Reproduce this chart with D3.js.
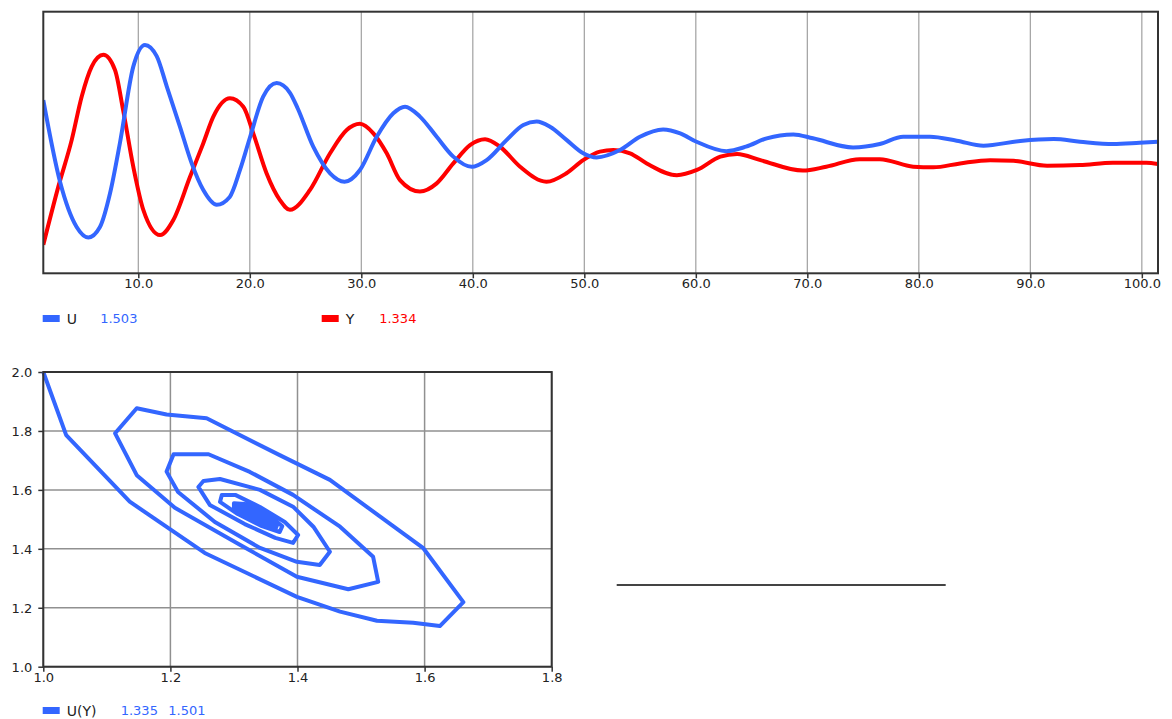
<!DOCTYPE html>
<html>
<head>
<meta charset="utf-8">
<script src="https://cdn.jsdelivr.net/npm/d3@7/dist/d3.min.js"></script>
<style>
  html, body { margin: 0; padding: 0; background: #fff; }
  svg { display: block; }
  text { font-family: "DejaVu Sans", Verdana, sans-serif; font-size: 13px; }
</style>
</head>
<body>
<svg id="chart" width="1172" height="719"></svg>
<script>
// ---------- DATA ----------
const timeTicks = [10, 20, 30, 40, 50, 60, 70, 80, 90, 100];
const phaseXTicks = [1.0, 1.2, 1.4, 1.6, 1.8];
const phaseYTicks = [1.0, 1.2, 1.4, 1.6, 1.8, 2.0];

// U(t) series (blue)
const uTime = [1.48, 2.98, 4.47, 5.52, 6.56, 7.46, 8.36, 9.55, 10.6, 11.65, 12.55, 13.74, 14.79, 15.83,
  17.03, 18.2, 19.12, 20.02, 21.2, 22.41, 23.6, 24.3, 25.7, 27.2, 28.5, 29.88, 31.38, 32.87, 33.92,
  35.26, 36.76, 38.25, 39.9, 41.24, 43.04, 44.53, 45.73, 46.92, 48.4, 49.9, 51.1, 53.2, 54.99, 57.07,
  58.6, 60.06, 62.75, 64.5, 66.36, 68.75, 70.5, 74.1, 76.5, 78.6, 81.0, 83.4, 85.8, 89.1, 92.1, 94.45,
  97.44, 99.8, 101.45];
const uValues = [1.662, 1.35, 1.177, 1.137, 1.177, 1.305, 1.50, 1.79, 1.873, 1.83, 1.715, 1.56, 1.42, 1.318,
  1.262, 1.292, 1.395, 1.52, 1.675, 1.727, 1.69, 1.63, 1.483, 1.382, 1.35, 1.395, 1.522, 1.612, 1.637,
  1.599, 1.522, 1.446, 1.407, 1.433, 1.51, 1.567, 1.58, 1.56, 1.51, 1.459, 1.443, 1.471, 1.522, 1.55,
  1.535, 1.503, 1.467, 1.484, 1.516, 1.531, 1.516, 1.481, 1.494, 1.522, 1.522, 1.507, 1.488, 1.506, 1.513, 1.503,
  1.494, 1.499, 1.503];

// Y(t) series (red)
const yTime = [1.48, 2.83, 4.03, 4.92, 5.82, 6.86, 7.91, 8.64, 9.55, 10.45, 11.95, 13.14, 14.64, 15.83,
  16.73, 18.22, 19.42, 20.31, 21.5, 22.7, 23.6, 25.4, 27.2, 28.69, 29.88, 31.08, 32.28, 33.47, 35.26,
  36.76, 38.25, 39.75, 41.1, 42.44, 44.24, 46.6, 48.4, 49.9, 51.4, 52.6, 54.1, 55.6, 58.3, 60.1, 62.2,
  63.7, 65.8, 69.6, 71.7, 74.7, 76.5, 79.5, 81.3, 83.7, 86.4, 88.5, 91.5, 94.45, 97.4, 100.4, 101.45];
const yValues = [1.087, 1.265, 1.408, 1.54, 1.632, 1.668, 1.622, 1.499, 1.326, 1.194, 1.117, 1.163, 1.295, 1.398,
  1.479, 1.535, 1.509, 1.428, 1.306, 1.224, 1.194, 1.255, 1.367, 1.438, 1.457, 1.428, 1.367, 1.285, 1.25,
  1.275, 1.336, 1.392, 1.41, 1.387, 1.326, 1.28, 1.306, 1.346, 1.372, 1.377, 1.367, 1.336, 1.30, 1.316, 1.357,
  1.365, 1.346, 1.314, 1.326, 1.349, 1.349, 1.326, 1.324, 1.336, 1.346, 1.344, 1.329, 1.331, 1.338, 1.338, 1.334];

// Phase plot U(Y): x = Y, y = U
const phaseY = [1.000, 1.036, 1.136, 1.254, 1.399, 1.467, 1.525, 1.582, 1.624, 1.661, 1.598, 1.451, 1.372, 1.257,
  1.194, 1.147, 1.113, 1.147,
  1.207, 1.310, 1.399, 1.480, 1.527, 1.519, 1.467, 1.393, 1.325, 1.260, 1.205, 1.194,
  1.212, 1.270, 1.341, 1.399, 1.435, 1.451, 1.425, 1.393, 1.341, 1.278, 1.252, 1.244,
  1.262, 1.317, 1.365, 1.393, 1.401, 1.380, 1.341, 1.302, 1.281, 1.278,
  1.306, 1.344, 1.372, 1.376, 1.349, 1.317, 1.300, 1.300,
  1.320, 1.352, 1.366, 1.368, 1.345, 1.318, 1.303, 1.304,
  1.325, 1.350, 1.362, 1.362, 1.342, 1.320, 1.308, 1.310,
  1.328, 1.350, 1.358, 1.357, 1.340, 1.322, 1.313, 1.315,
  1.331, 1.348, 1.353, 1.352, 1.338, 1.325, 1.318, 1.320,
  1.333, 1.345, 1.348, 1.346, 1.336, 1.328, 1.324, 1.327, 1.335];
const phaseU = [2.000, 1.786, 1.560, 1.386, 1.237, 1.187, 1.156, 1.149, 1.138, 1.219, 1.402, 1.634, 1.718, 1.843,
  1.856, 1.877, 1.792, 1.650,
  1.539, 1.413, 1.305, 1.263, 1.288, 1.373, 1.475, 1.583, 1.661, 1.721, 1.721, 1.662,
  1.593, 1.491, 1.403, 1.356, 1.345, 1.390, 1.475, 1.543, 1.600, 1.637, 1.630, 1.610,
  1.549, 1.484, 1.437, 1.420, 1.447, 1.491, 1.542, 1.583, 1.583, 1.559,
  1.518, 1.477, 1.457, 1.477, 1.522, 1.552, 1.555, 1.532,
  1.505, 1.478, 1.470, 1.482, 1.512, 1.540, 1.545, 1.530,
  1.500, 1.480, 1.476, 1.488, 1.512, 1.533, 1.537, 1.525,
  1.499, 1.483, 1.481, 1.491, 1.510, 1.527, 1.530, 1.520,
  1.499, 1.487, 1.486, 1.494, 1.508, 1.520, 1.522, 1.515,
  1.500, 1.491, 1.491, 1.497, 1.506, 1.513, 1.514, 1.509, 1.501];

const legendTop = [{name: "U", value: "1.503", color: "#3366ff"}, {name: "Y", value: "1.334", color: "#ff0000"}];
const legendPhase = {name: "U(Y)", values: ["1.335", "1.501"], color: "#3366ff"};

// ---------- DRAW ----------
const svg = d3.select("#chart");
const BLUE = "#3366ff", RED = "#ff0000";
const FRAME = "#333", GRID = "#a0a0a0";

// ===== Top chart =====
const T = {l: 43.3, r: 1158, t: 11.7, b: 273.3};
const xT = d3.scaleLinear().domain([1.48, 101.45]).range([T.l, T.r]);
const yU = d3.scaleLinear().domain([1, 2]).range([T.b, T.t]);
const yY = d3.scaleLinear().domain([1, 1.8]).range([T.b, T.t]);

const gTop = svg.append("g");
gTop.append("defs").append("clipPath").attr("id", "clipTop")
  .append("rect").attr("x", T.l).attr("y", T.t).attr("width", T.r - T.l).attr("height", T.b - T.t);

gTop.append("g").selectAll("line").data(timeTicks).join("line")
  .attr("x1", d => xT(d)).attr("x2", d => xT(d)).attr("y1", T.t).attr("y2", T.b)
  .attr("stroke", GRID).attr("stroke-width", 1.2);

const axT = gTop.append("g").attr("transform", `translate(0,${T.b})`)
  .call(d3.axisBottom(xT).tickValues(timeTicks).tickFormat(d3.format(".1f")).tickSize(5).tickSizeOuter(0));
axT.select(".domain").remove();
axT.selectAll(".tick line").attr("stroke", FRAME).attr("stroke-width", 1.5);
axT.selectAll(".tick text").attr("fill", "#222").attr("dy", "0.62em").attr("y", 7)
  .style("font-family", "DejaVu Sans").style("font-size", "13px");

const lineU = d3.line().x((d, i) => xT(uTime[i])).y(d => yU(d)).curve(d3.curveMonotoneX);
const lineY = d3.line().x((d, i) => xT(yTime[i])).y(d => yY(d)).curve(d3.curveMonotoneX);
const gLines = gTop.append("g").attr("clip-path", "url(#clipTop)");
gLines.append("path").datum(yValues).attr("d", lineY).attr("fill", "none")
  .attr("stroke", RED).attr("stroke-width", 4).attr("stroke-linejoin", "round");
gLines.append("path").datum(uValues).attr("d", lineU).attr("fill", "none")
  .attr("stroke", BLUE).attr("stroke-width", 4).attr("stroke-linejoin", "round");

gTop.append("rect").attr("x", T.l).attr("y", T.t).attr("width", T.r - T.l).attr("height", T.b - T.t)
  .attr("fill", "none").attr("stroke", FRAME).attr("stroke-width", 2);

const legX = [42.7, 321.7];
legendTop.forEach((d, i) => {
  const g = svg.append("g").attr("transform", `translate(${legX[i]},318.5)`);
  g.append("rect").attr("x", 0).attr("y", -3.5).attr("width", 17).attr("height", 7).attr("fill", d.color);
  g.append("text").attr("x", 24).attr("y", 0).attr("dy", "0.36em").attr("fill", "#222")
    .style("font-size", "14px").text(d.name);
  g.append("text").attr("x", 57.5).attr("y", 0).attr("dy", "0.36em").attr("fill", d.color).text(d.value);
});

// ===== Phase chart =====
const P = {l: 43.3, r: 551.7, t: 372, b: 666.7};
const xP = d3.scaleLinear().domain([1.0, 1.8]).range([P.l, P.r]);
const yP = d3.scaleLinear().domain([1.0, 2.0]).range([P.b, P.t]);
const gP = svg.append("g");
gP.append("defs").append("clipPath").attr("id", "clipP")
  .append("rect").attr("x", P.l - 2).attr("y", P.t - 2).attr("width", P.r - P.l + 4).attr("height", P.b - P.t + 4);

gP.append("g").selectAll("line").data(phaseXTicks).join("line")
  .attr("x1", d => xP(d)).attr("x2", d => xP(d)).attr("y1", P.t).attr("y2", P.b)
  .attr("stroke", "#909090").attr("stroke-width", 1.5);
gP.append("g").selectAll("line").data(phaseYTicks).join("line")
  .attr("y1", d => yP(d)).attr("y2", d => yP(d)).attr("x1", P.l).attr("x2", P.r)
  .attr("stroke", "#909090").attr("stroke-width", 1.5);

const axPx = gP.append("g").attr("transform", `translate(0,${P.b})`)
  .call(d3.axisBottom(xP).tickValues(phaseXTicks).tickFormat(d3.format(".1f")).tickSize(5).tickSizeOuter(0));
axPx.select(".domain").remove();
axPx.selectAll(".tick line").attr("stroke", FRAME).attr("stroke-width", 1.5);
axPx.selectAll(".tick text").attr("fill", "#222").attr("y", 7).attr("dy", "0.62em")
  .style("font-family", "DejaVu Sans").style("font-size", "13px");

const axPy = gP.append("g").attr("transform", `translate(${P.l},0)`)
  .call(d3.axisLeft(yP).tickValues(phaseYTicks).tickFormat(d3.format(".1f")).tickSize(5).tickSizeOuter(0));
axPy.select(".domain").remove();
axPy.selectAll(".tick line").attr("stroke", FRAME).attr("stroke-width", 1.5);
axPy.selectAll(".tick text").attr("fill", "#222").attr("x", -11).attr("dy", "0.36em")
  .style("font-family", "DejaVu Sans").style("font-size", "13px");

const linePhase = d3.line().x(d => xP(d)).y((d, i) => yP(phaseU[i])).curve(d3.curveLinear);
gP.append("g").attr("clip-path", "url(#clipP)").append("path").datum(phaseY).attr("d", linePhase)
  .attr("fill", "none").attr("stroke", BLUE).attr("stroke-width", 4).attr("stroke-linejoin", "round");

gP.append("rect").attr("x", P.l).attr("y", P.t).attr("width", P.r - P.l).attr("height", P.b - P.t)
  .attr("fill", "none").attr("stroke", FRAME).attr("stroke-width", 2);

{
  const g = svg.append("g").attr("transform", `translate(42.7,710.5)`);
  g.append("rect").attr("x", 0).attr("y", -3.5).attr("width", 17).attr("height", 7).attr("fill", legendPhase.color);
  g.append("text").attr("x", 24).attr("y", 0).attr("dy", "0.36em").attr("fill", "#222")
    .style("font-size", "14px").text(legendPhase.name);
  const vx = [78, 125.6];
  legendPhase.values.forEach((v, i) => {
    g.append("text").attr("x", vx[i]).attr("y", 0).attr("dy", "0.36em").attr("fill", legendPhase.color).text(v);
  });
}

svg.append("line").attr("x1", 616.7).attr("x2", 945.7).attr("y1", 585).attr("y2", 585)
  .attr("stroke", "#444").attr("stroke-width", 2);
</script>
</body>
</html>
